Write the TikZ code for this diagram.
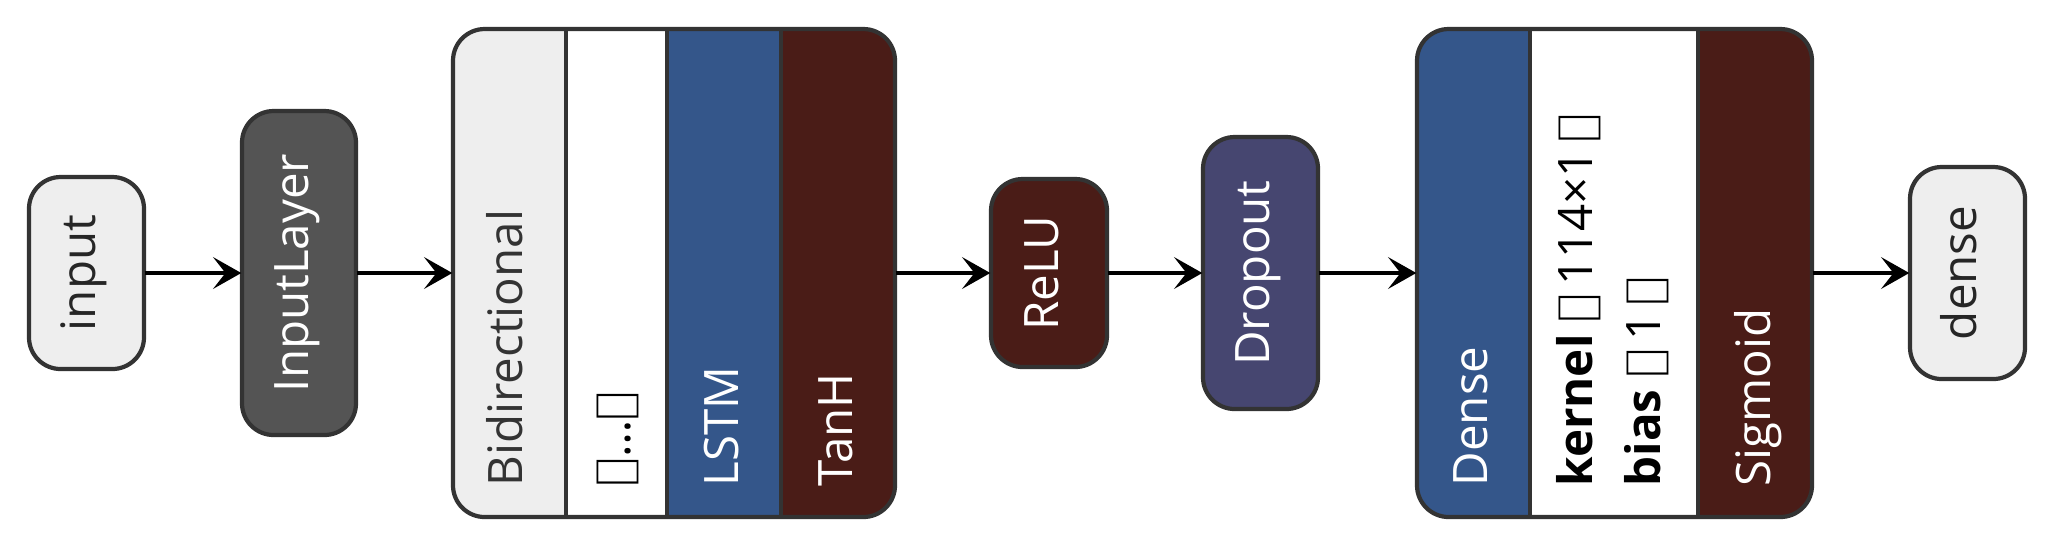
\documentclass[tikz,border=0pt]{standalone}
\usepackage{fontspec}
\setmainfont{Open Sans}
\newfontfamily\djfont{DejaVu Sans ExtraLight}
\usetikzlibrary{arrows.meta}
\definecolor{lg}{HTML}{EEEEEE}
\definecolor{dg}{HTML}{545454}
\definecolor{bl}{HTML}{34568A}
\definecolor{rd}{HTML}{4A1C17}
\definecolor{pu}{HTML}{464670}
\definecolor{ol}{HTML}{333333}
\newcommand{\lab}[1]{{\djfont\char"27E8}#1{\djfont\char"27E9}}
\tikzset{
  box/.style={draw=ol,line width=1.2pt,rounded corners=9pt,inner sep=0pt},
  vt/.style={rotate=90,font=\fontsize{13.5}{16}\selectfont,inner sep=0pt},
  vl/.style={vt,anchor=base west},
  arr/.style={line width=1.2pt,-{Stealth[length=8pt,width=9pt,inset=3.5pt]}}
}
\begin{document}
\begin{tikzpicture}[x=0.01cm,y=-0.01cm]
\useasboundingbox (0,0) rectangle (2051,550);
% simple boxes
\path[box,fill=lg] (29,177) rectangle (144,369); \node[minimum width=115*0.01cm,minimum height=192*0.01cm,inner sep=0] (in) at (86.5,273) {};
\node[vt,text=black!85,anchor=mid] at (in.center) {input};
\path[box,fill=dg] (242,111) rectangle (356,435); \node[minimum width=114*0.01cm,minimum height=324*0.01cm,inner sep=0] (il) at (299,273) {};
\node[vt,text=white,anchor=mid] at (il.center) {InputLayer};
% bidirectional
\begin{scope}
\clip[rounded corners=9pt] (453,29) rectangle (895,517);
\fill[lg] (453,29) rectangle (566,517);
\fill[white] (566,29) rectangle (667,517);
\fill[bl] (667,29) rectangle (781,517);
\fill[rd] (781,29) rectangle (895,517);
\end{scope}
\draw[ol,line width=1.2pt] (566,29)--(566,517) (667,29)--(667,517) (781,29)--(781,517);
\path[box] (453,29) rectangle (895,517);
\node[minimum width=442*0.01cm,minimum height=488*0.01cm,inner sep=0] (bi) at (674,273) {};
\node[vl,text=black!80] at (522,487) {Bidirectional};
\node[vl] at (630,487) {\lab{…}};
\node[vl,text=white] at (738,487) {LSTM};
\node[vl,text=white] at (852,487) {TanH};
% relu, dropout
\path[box,fill=rd] (991,179) rectangle (1107,367); \node[minimum width=116*0.01cm,minimum height=188*0.01cm,inner sep=0] (re) at (1049,273) {};
\node[vt,text=white,anchor=mid] at (re.center) {ReLU};
\path[box,fill=pu] (1203,137) rectangle (1318,409); \node[minimum width=115*0.01cm,minimum height=272*0.01cm,inner sep=0] (dr) at (1260.5,273) {};
\node[vt,text=white,anchor=mid] at (dr.center) {Dropout};
% dense
\begin{scope}
\clip[rounded corners=9pt] (1417,29) rectangle (1812,517);
\fill[bl] (1417,29) rectangle (1530,517);
\fill[white] (1530,29) rectangle (1698,517);
\fill[rd] (1698,29) rectangle (1812,517);
\end{scope}
\draw[ol,line width=1.2pt] (1530,29)--(1530,517) (1698,29)--(1698,517);
\path[box] (1417,29) rectangle (1812,517);
\node[minimum width=395*0.01cm,minimum height=488*0.01cm,inner sep=0] (de) at (1614.5,273) {};
\node[vl,text=white] at (1487,487) {Dense};
\node[vl] at (1592,487) {\textbf{kernel} \lab{\,114×1\,}};
\node[vl] at (1660,487) {\textbf{bias} \lab{\,1\,}};
\node[vl,text=white] at (1770,487) {Sigmoid};
% output
\path[box,fill=lg] (1910,167) rectangle (2025,379); \node[minimum width=115*0.01cm,minimum height=212*0.01cm,inner sep=0] (out) at (1967.5,273) {};
\node[vt,text=black!85,anchor=mid] at (out.center) {dense};
% arrows
\draw[arr] (in.east) -- (il.west);
\draw[arr] (il.east) -- (bi.west);
\draw[arr] (bi.east) -- (re.west);
\draw[arr] (re.east) -- (dr.west);
\draw[arr] (dr.east) -- (de.west);
\draw[arr] (de.east) -- (out.west);
\end{tikzpicture}
\end{document}
